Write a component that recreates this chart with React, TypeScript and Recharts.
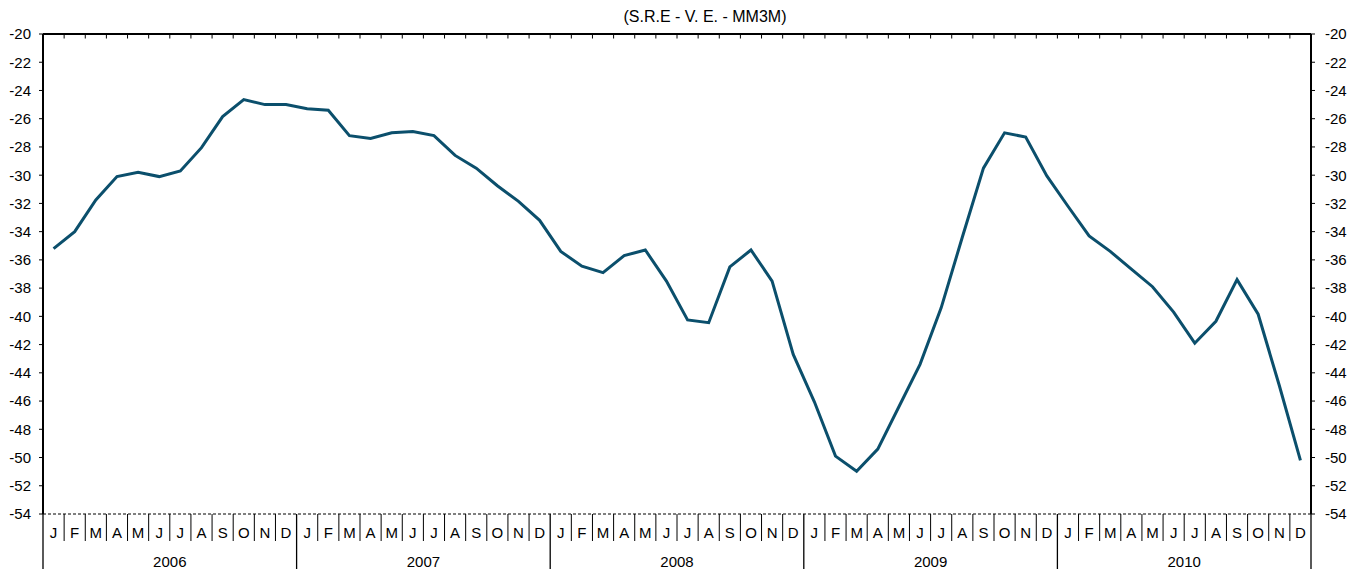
import { LineChart, Line, XAxis, YAxis, ReferenceLine } from "recharts";

// month initials + years for the two-row category axis
const MONTHS = ["J", "F", "M", "A", "M", "J", "J", "A", "S", "O", "N", "D"];
const YEARS = ["2006", "2007", "2008", "2009", "2010"];

// S.R.E - V.E. - MM3M, read month by month
const V2006 = [-35.2, -34.0, -31.75, -30.1, -29.8, -30.1, -29.7, -28.05, -25.85, -24.65, -25.0, -25.0];
const V2007 = [-25.3, -25.4, -27.2, -27.4, -27.0, -26.9, -27.2, -28.6, -29.5, -30.75, -31.85, -33.2];
const V2008 = [-35.4, -36.45, -36.9, -35.7, -35.3, -37.5, -40.25, -40.45, -36.5, -35.3, -37.5, -42.7];
const V2009 = [-46.05, -49.9, -50.97, -49.4, -46.4, -43.4, -39.4, -34.4, -29.5, -27.0, -27.3, -30.05];
const V2010 = [-32.2, -34.3, -35.4, -36.65, -37.9, -39.7, -41.9, -40.35, -37.4, -39.85, -44.9, -50.2];

const Y_TICKS = [-54, -52, -50, -48, -46, -44, -42, -40, -38, -36, -34, -32, -30, -28, -26, -24, -22, -20];

const SERIES = [...V2006, ...V2007, ...V2008, ...V2009, ...V2010];
const data = SERIES.map((v, i) => ({ t: i + 0.5, v }));

const N = SERIES.length;
const EDGES = Array.from({ length: N - 1 }, (_, i) => i + 1);
const HALF_TICKS = Array.from({ length: 2 * N + 1 }, (_, i) => i / 2);

const FONT = "'Liberation Sans', Arial, sans-serif";
const LINE_COLOR = "#0b4f6c";

function BottomTick(props: any) {
  const { x, y, payload } = props;
  const v = payload.value as number;
  if (Number.isInteger(v)) {
    const isYear = v % 12 === 0;
    const yearIdx = Math.floor(v / 12);
    return (
      <g>
        <line
          x1={x}
          x2={x}
          y1={y}
          y2={isYear ? y + 56 : y + 27}
          stroke="#000"
          strokeWidth={isYear ? 1.3 : 1}
        />
        {v % 12 === 6 && (
          <text x={x} y={y + 53} textAnchor="middle" fontSize={15} fill="#000" fontFamily={FONT}>
            {YEARS[yearIdx]}
          </text>
        )}
      </g>
    );
  }
  const m = Math.floor(v) % 12;
  return (
    <text x={x} y={y + 24} textAnchor="middle" fontSize={15} fill="#000" fontFamily={FONT}>
      {MONTHS[m]}
    </text>
  );
}

export default function App() {
  return (
    <div style={{ position: "absolute", left: 0, top: 0, width: 1359, height: 569, background: "#fff" }}>
      <div
        style={{
          position: "absolute",
          left: 0,
          width: 1410,
          top: 8,
          textAlign: "center",
          fontFamily: FONT,
          fontSize: 16,
          color: "#000",
        }}
      >
        (S.R.E - V. E. - MM3M)
      </div>
      <LineChart
        width={1359}
        height={569}
        data={data}
        margin={{ top: 0, right: 0, left: 0, bottom: 0 }}
        style={{ fontFamily: FONT }}
      >
        <XAxis
          xAxisId="top"
          orientation="top"
          dataKey="t"
          type="number"
          domain={[0, N]}
          height={34}
          tick={false}
          tickLine={false}
          axisLine={{ stroke: "#000", strokeWidth: 2 }}
        />
        <XAxis
          xAxisId="bottom"
          dataKey="t"
          type="number"
          domain={[0, N]}
          ticks={HALF_TICKS}
          interval={0}
          height={55}
          tickSize={0}
          tickMargin={0}
          tickLine={false}
          axisLine={{ stroke: "#000", strokeWidth: 1, strokeDasharray: "3 2" }}
          tick={<BottomTick />}
        />
        <YAxis
          yAxisId="left"
          domain={[-54, -20]}
          ticks={Y_TICKS}
          interval={0}
          width={43}
          tickSize={4}
          tickMargin={8}
          allowDataOverflow
          axisLine={{ stroke: "#000", strokeWidth: 2 }}
          tickLine={{ stroke: "#000" }}
          tick={{ fontSize: 15, fill: "#000", fontFamily: FONT }}
        />
        <YAxis
          yAxisId="right"
          orientation="right"
          domain={[-54, -20]}
          ticks={Y_TICKS}
          interval={0}
          width={48}
          tickSize={4}
          tickMargin={10}
          allowDataOverflow
          axisLine={{ stroke: "#000", strokeWidth: 2 }}
          tickLine={{ stroke: "#000" }}
          tick={{ fontSize: 15, fill: "#000", fontFamily: FONT }}
        />
        {/* short inward ticks hanging from the top frame at month edges */}
        {EDGES.map((e) => (
          <ReferenceLine
            key={e}
            xAxisId="bottom"
            yAxisId="left"
            segment={[
              { x: e, y: -20 },
              { x: e, y: -20.32 },
            ]}
            stroke="#000"
            strokeWidth={1}
          />
        ))}
        <Line
          xAxisId="bottom"
          yAxisId="left"
          type="linear"
          dataKey="v"
          stroke={LINE_COLOR}
          strokeWidth={3}
          dot={false}
          activeDot={false}
          isAnimationActive={false}
        />
      </LineChart>
    </div>
  );
}
